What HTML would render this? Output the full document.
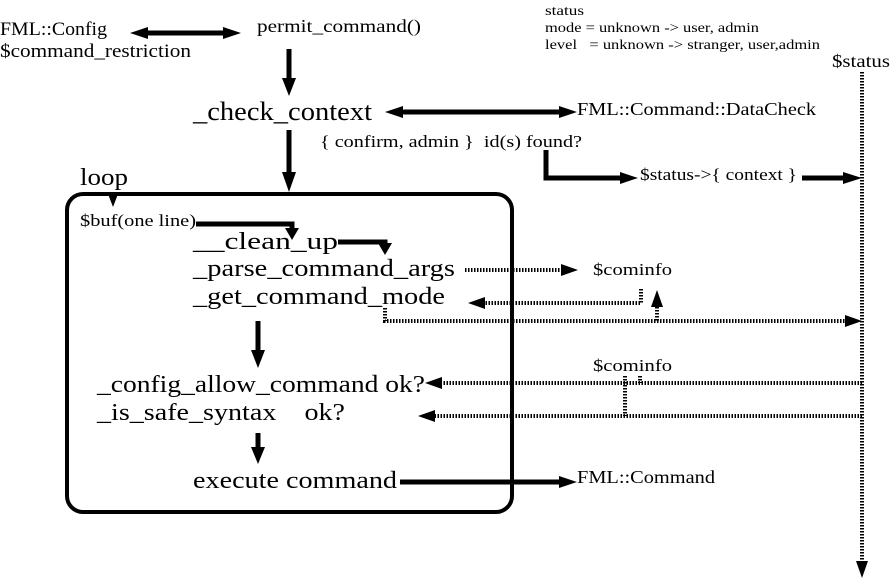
<!DOCTYPE html>
<html><head><meta charset="utf-8"><style>
html,body{margin:0;padding:0;background:#fff;}
svg{display:block;}
text{font-family:"Liberation Serif",serif;fill:#000;}
</style></head><body>
<svg width="894" height="580" viewBox="0 0 894 580" xmlns="http://www.w3.org/2000/svg">
<g font-size="14">
<text x="545" y="15" textLength="39" lengthAdjust="spacingAndGlyphs">status</text>
<text x="545" y="32" textLength="214" lengthAdjust="spacingAndGlyphs">mode = unknown -&gt; user, admin</text>
<text x="545" y="49" textLength="275" lengthAdjust="spacingAndGlyphs">level &#160; = unknown -&gt; stranger, user,admin</text>
</g>
<text x="0" y="35" font-size="19" textLength="107" lengthAdjust="spacingAndGlyphs">FML::Config</text>
<text x="0" y="57" font-size="19" textLength="191" lengthAdjust="spacingAndGlyphs">$command_restriction</text>
<text x="257" y="32" font-size="18" textLength="164" lengthAdjust="spacingAndGlyphs">permit_command()</text>
<text x="832" y="67" font-size="18" textLength="58" lengthAdjust="spacingAndGlyphs">$status</text>
<text x="193" y="120" font-size="26" textLength="179" lengthAdjust="spacingAndGlyphs">_check_context</text>
<text x="577" y="115" font-size="18" textLength="239" lengthAdjust="spacingAndGlyphs">FML::Command::DataCheck</text>
<text x="320" y="147" font-size="17" textLength="262" lengthAdjust="spacingAndGlyphs">{ confirm, admin } &#160;id(s) found?</text>
<text x="640" y="180" font-size="17" textLength="157" lengthAdjust="spacingAndGlyphs">$status-&gt;{ context }</text>
<text x="80" y="185" font-size="24" textLength="48" lengthAdjust="spacingAndGlyphs">loop</text>
<text x="80" y="226" font-size="17" textLength="116" lengthAdjust="spacingAndGlyphs">$buf(one line)</text>
<text x="193" y="249" font-size="24" textLength="145" lengthAdjust="spacingAndGlyphs">__clean_up</text>
<text x="193" y="276" font-size="24" textLength="262" lengthAdjust="spacingAndGlyphs">_parse_command_args</text>
<text x="193" y="304" font-size="24" textLength="252" lengthAdjust="spacingAndGlyphs">_get_command_mode</text>
<text x="593" y="275" font-size="17" textLength="79" lengthAdjust="spacingAndGlyphs">$cominfo</text>
<text x="593" y="371" font-size="17" textLength="79" lengthAdjust="spacingAndGlyphs">$cominfo</text>
<text x="97" y="392" font-size="24" textLength="328" lengthAdjust="spacingAndGlyphs">_config_allow_command ok?</text>
<text x="97" y="420" font-size="24" textLength="248" lengthAdjust="spacingAndGlyphs">_is_safe_syntax &#160;&#160;&#160;ok?</text>
<text x="193" y="488" font-size="24" textLength="204" lengthAdjust="spacingAndGlyphs">execute command</text>
<text x="577" y="483" font-size="18" textLength="138" lengthAdjust="spacingAndGlyphs">FML::Command</text>

<g stroke="#000" fill="none" stroke-width="5">
<line x1="145" y1="33" x2="225" y2="33"/>
<path d="M130,33 L148,27 L148,39z M241,33 L223,27 L223,39z" fill="#000" stroke="none"/>
<line x1="289" y1="49" x2="289" y2="80"/>
<path d="M282,78 L296,78 L289,96z" fill="#000" stroke="none"/>
<line x1="400" y1="112" x2="560" y2="112"/>
<path d="M385,112 L403,106 L403,118z M577,112 L559,106 L559,118z" fill="#000" stroke="none"/>
<line x1="289" y1="130" x2="289" y2="174"/>
<path d="M282,172 L296,172 L289,192z" fill="#000" stroke="none"/>
<polyline points="546,150 546,178 622,178"/>
<path d="M638,178 L620,172 L620,184z" fill="#000" stroke="none"/>
<line x1="802" y1="178" x2="845" y2="178"/>
<path d="M862,178 L843,172 L843,184z" fill="#000" stroke="none"/>
<rect x="67" y="194" width="445" height="318" rx="16" ry="16" stroke-width="4"/>
<path d="M108,194 L118,194 L113,207z" fill="#000" stroke="none"/>
<polyline points="196,224 292,224 292,230"/>
<path d="M285,228 L299,228 L292,240z" fill="#000" stroke="none"/>
<polyline points="338,242 385,242 385,245"/>
<path d="M378,243 L392,243 L385,255z" fill="#000" stroke="none"/>
<line x1="258" y1="321" x2="258" y2="352"/>
<path d="M251,350 L265,350 L258,368z" fill="#000" stroke="none"/>
<line x1="258" y1="433" x2="258" y2="449"/>
<path d="M251,447 L265,447 L258,464z" fill="#000" stroke="none"/>
<line x1="400" y1="482" x2="560" y2="482"/>
<path d="M577,482 L559,476 L559,488z" fill="#000" stroke="none"/>
</g>

<g stroke="#000" fill="none" stroke-width="4" stroke-dasharray="1.5 1.5">
<line x1="862" y1="72" x2="862" y2="562"/>
<line x1="465" y1="270" x2="562" y2="270"/>
<polyline points="641,289 641,303 484,303"/>
<line x1="657" y1="307" x2="657" y2="321"/>
<polyline points="385,308 385,321 846,321"/>
<line x1="862" y1="383" x2="440" y2="383"/>
<line x1="862" y1="416" x2="434" y2="416"/>
<line x1="625" y1="376" x2="625" y2="416"/>
<line x1="640" y1="376" x2="640" y2="383"/>
</g>
<g fill="#000">
<path d="M578,270 L561,264 L561,276z"/>
<path d="M468,303 L485,297 L485,309z"/>
<path d="M657,290 L651,307 L663,307z"/>
<path d="M862,321 L845,315 L845,327z"/>
<path d="M425,383 L442,377 L442,389z"/>
<path d="M418,416 L435,410 L435,422z"/>
<path d="M862,578 L856,561 L868,561z"/>
</g>
</svg>
</body></html>
